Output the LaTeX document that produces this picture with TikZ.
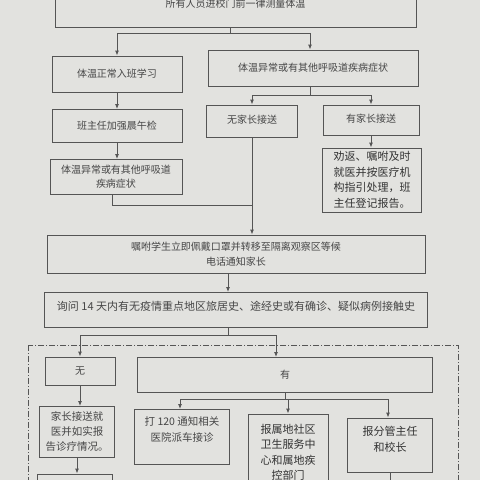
\documentclass[tikz,border=0pt]{standalone}
\usepackage{fontspec}
\newfontfamily\cjk{Noto Sans CJK SC}
\usetikzlibrary{arrows.meta}
\definecolor{bg}{RGB}{226,226,223}
\definecolor{ink}{RGB}{70,70,70}
\definecolor{ln}{RGB}{85,85,85}
\tikzset{
  box/.style={draw=ln, line width=0.9pt, text=ink, font=\cjk\fontsize{10}{15}\selectfont, align=center, inner sep=1pt},
  conn/.style={draw=ln, line width=0.9pt},
  arr/.style={conn, -{Latex[length=5pt,width=4pt]}},
}
\begin{document}
\begin{tikzpicture}[x=1pt,y=-1pt]
\fill[bg] (0,0) rectangle (480,480);
\useasboundingbox (0,0) rectangle (480,480);
\begin{scope}
\clip (0,0) rectangle (480,480);
% top
\node[box, minimum width=361pt, minimum height=47pt, text depth=0pt] (top) at (235.5,3.5) {所有人员进校门前一律测量体温};
\node[box, minimum width=130pt, minimum height=36pt] (n1) at (117,74) {体温正常入班学习};
\node[box, minimum width=210pt, minimum height=36pt] (n2) at (313,68) {体温异常或有其他呼吸道疾病症状};
\node[box, minimum width=130pt, minimum height=33pt] (n3) at (117,126) {班主任加强晨午检};
\node[box, minimum width=91pt, minimum height=32pt, text depth=4pt] (n4) at (252,121) {无家长接送};
\node[box, minimum width=96pt, minimum height=30pt, text depth=4pt] (n5) at (371,120) {有家长接送};
\node[box, minimum width=132pt, minimum height=35pt, font=\cjk\fontsize{10}{14}\selectfont] (n6) at (116,177) {体温异常或有其他呼吸道\\疾病症状};
\node[box, minimum width=99pt, minimum height=64pt, text=black!80, font=\cjk\fontsize{11}{15.5}\selectfont] (n7) at (372,180) {劝返、嘱咐及时\\就医并按医疗机\\构指引处理，班\\主任登记报告。};
\node[box, minimum width=378pt, minimum height=38pt] (n8) at (236,254) {嘱咐学生立即佩戴口罩并转移至隔离观察区等候\\电话通知家长};
\node[box, minimum width=383pt, minimum height=35pt, text depth=8pt, font=\cjk\fontsize{11}{14}\selectfont] (n9) at (236,310) {询问 14 天内有无疫情重点地区旅居史、途经史或有确诊、疑似病例接触史};
\draw[ln, line width=0.8pt, dash pattern=on 6pt off 2pt on 1pt off 2pt] (28,345) rectangle (458,495);
\node[box, minimum width=70pt, minimum height=28pt] (n10) at (80,371) {无};
\node[box, minimum width=295pt, minimum height=35pt] (n11) at (285,375) {有};
\node[box, minimum width=75pt, minimum height=51pt, font=\cjk\fontsize{10.5}{15}\selectfont] (n12) at (77,432) {家长接送就\\医并如实报\\告诊疗情况。};
\node[box, minimum width=75pt, minimum height=30pt] (n13) at (75,489) {};
\node[box, minimum width=95pt, minimum height=55pt, font=\cjk\fontsize{10.5}{16}\selectfont, text depth=16pt] (n14) at (182,437) {打 120 通知相关\\医院派车接诊};
\node[box, minimum width=80pt, minimum height=82pt, text=black!80, font=\cjk\fontsize{11}{15.5}\selectfont, text depth=6pt] (n15) at (288,455) {报属地社区\\卫生服务中\\心和属地疾\\控部门};
\node[box, minimum width=85pt, minimum height=54pt, text=black!80, font=\cjk\fontsize{11}{16}\selectfont, text depth=12pt] (n16) at (390,445) {报分管主任\\和校长};
\coordinate (end16) at (390,485);
% connectors
\draw[conn] ([xshift=-5pt]top.south) -- ++(0,6) coordinate (j1);
\draw[arr] (j1) -| (n1.north);
\draw[arr] (j1) -| ([xshift=-3pt]n2.north);
\draw[conn] ([xshift=-3pt]n2.south) -- ++(0,9) coordinate (j2);
\draw[arr] (j2) -| (n4.north);
\draw[arr] (j2) -| (n5.north);
\draw[arr] (n1.south) -- (n3.north);
\draw[arr] (n3.south) -- (n6.north -| n3.south);
\draw[arr] (n5.south) -- (n7.north -| n5.south);
\draw[arr] (n4.south) -- (n4.south |- n8.north);
\draw[conn] ([xshift=-4pt]n6.south) |- (n4.south |- 0,205);
\draw[arr] ([xshift=-8pt]n8.south) -- ([xshift=-8pt]n9.north);
\draw[conn] ([xshift=-8pt]n9.south) -- ++(0,7) coordinate (j3);
\draw[arr] (j3) -| (n10.north);
\draw[arr] (j3) -| ([xshift=-9pt]n11.north);
\draw[arr] (n10.south) -- (n12.north -| n10.south);
\draw[arr] (n12.south) -- (n13.north -| n12.south);
\draw[conn] (n11.south) -- ++(0,6) coordinate (j4);
\draw[arr] (j4) -| ([xshift=-2pt]n14.north);
\draw[arr] (j4) -| (n15.north);
\draw[arr] (j4) -| ([xshift=-2pt]n16.north);
\draw[conn] (n16.south) -- (end16);
\end{scope}
\end{tikzpicture}
\end{document}
